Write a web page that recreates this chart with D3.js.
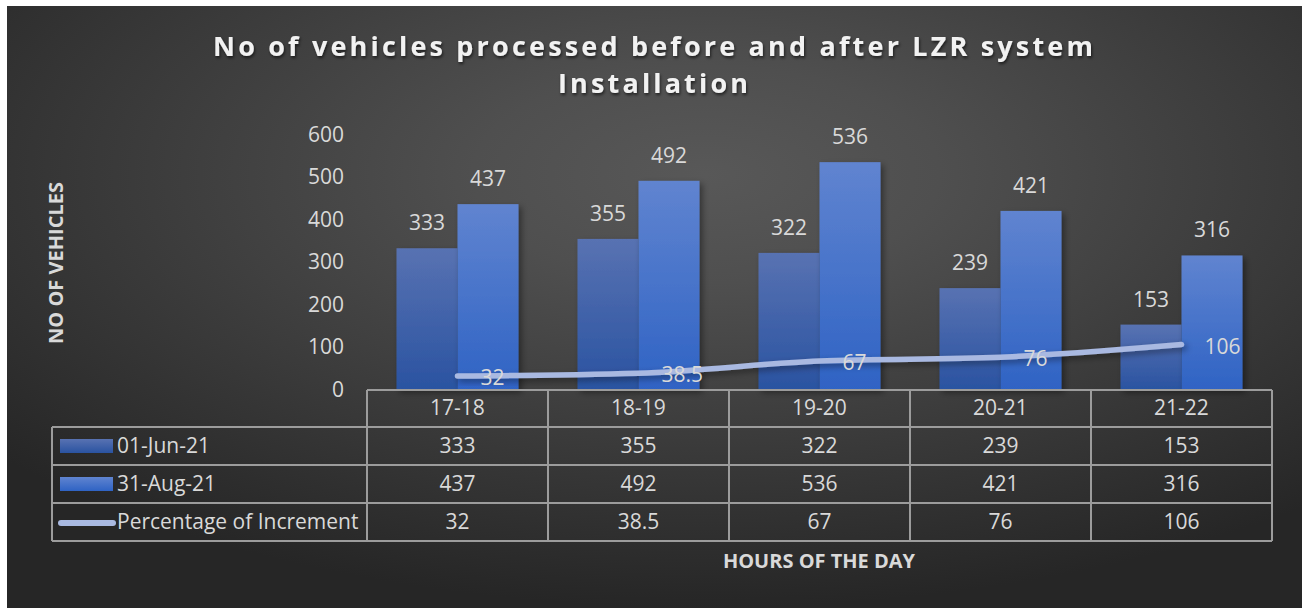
<html>
<head>
<title>LZR vehicles chart</title>
<script src="https://cdn.jsdelivr.net/npm/d3@7"></script>
<style>
body { margin:0; background:#ffffff; }
text { font-family: "Open Sans", "Noto Sans", sans-serif; }
</style>
</head>
<body>
<div id="canvas"></div>
<script>

var categories = ["17-18", "18-19", "19-20", "20-21", "21-22"];
var seriesNames = ["01-Jun-21", "31-Aug-21"];
var jun = [333, 355, 322, 239, 153];
var aug = [437, 492, 536, 421, 316];
var lineName = "Percentage of Increment";
var increment = [32, 38.5, 67, 76, 106];
var yTicks = [0, 100, 200, 300, 400, 500, 600];

var W = 1306, H = 608;
var plotLeft = 367, plotRight = 1272, plotTop = 135, base = 389.5;
var rowH = 38;
var fs = "21px";

var svg = d3.select("#canvas").append("svg")
            .attr("width", W).attr("height", H);

var defs = svg.append("defs");

var bg = defs.append("radialGradient").attr("id", "bg")
             .attr("cx", "54%").attr("cy", "28%").attr("r", "72%");
bg.append("stop").attr("offset", "0%").attr("stop-color", "#585858");
bg.append("stop").attr("offset", "25%").attr("stop-color", "#4f4f4f");
bg.append("stop").attr("offset", "100%").attr("stop-color", "#262626");

var g1 = defs.append("linearGradient").attr("id", "g1")
             .attr("x1", 0).attr("y1", 0).attr("x2", 0).attr("y2", 1);
g1.append("stop").attr("offset", "0%").attr("stop-color", "#5872b2");
g1.append("stop").attr("offset", "100%").attr("stop-color", "#2a53a1");

var g2 = defs.append("linearGradient").attr("id", "g2")
             .attr("x1", 0).attr("y1", 0).attr("x2", 0).attr("y2", 1);
g2.append("stop").attr("offset", "0%").attr("stop-color", "#6084d0");
g2.append("stop").attr("offset", "100%").attr("stop-color", "#2f63c4");

var shadow = defs.append("filter").attr("id", "shadow")
                 .attr("x", "-20%").attr("y", "-20%").attr("width", "150%").attr("height", "150%");
shadow.append("feDropShadow").attr("dx", 3).attr("dy", 3).attr("stdDeviation", 3)
      .attr("flood-color", "#000").attr("flood-opacity", 0.4);

var tshadow = defs.append("filter").attr("id", "tshadow")
                  .attr("x", "-5%").attr("y", "-30%").attr("width", "110%").attr("height", "160%");
tshadow.append("feDropShadow").attr("dx", 1).attr("dy", 2).attr("stdDeviation", 1.5)
       .attr("flood-color", "#000").attr("flood-opacity", 0.6);

svg.append("rect").attr("x", 7).attr("y", 6).attr("width", 1295).attr("height", 602)
   .attr("fill", "url(#bg)");

// title
var title = svg.append("text").attr("text-anchor", "middle")
               .attr("fill", "#f2f2f2").style("font-weight", "bold")
               .style("font-size", "27px").attr("filter", "url(#tshadow)");
title.append("tspan").attr("x", 653).attr("y", 56)
     .attr("textLength", 880).attr("lengthAdjust", "spacing")
     .text("No of vehicles processed before and after LZR system");
title.append("tspan").attr("x", 653).attr("y", 93)
     .attr("textLength", 190).attr("lengthAdjust", "spacing")
     .text("Installation");

var x = d3.scaleBand().domain(categories).range([plotLeft, plotRight]);
var x1 = d3.scaleBand().domain(d3.range(seriesNames.length))
           .range([29.5, x.bandwidth() - 29.5]);
var y = d3.scaleLinear().domain([0, 600]).range([base, plotTop]);

// y axis labels
svg.append("g").selectAll("text").data(yTicks).enter().append("text")
   .attr("x", 344).attr("y", function(d) { return y(d) + 7; })
   .attr("text-anchor", "end").attr("fill", "#d9d9d9").style("font-size", fs)
   .text(function(d) { return d; });

svg.append("text")
   .attr("transform", "translate(63,263) rotate(-90)")
   .attr("text-anchor", "middle").attr("fill", "#d9d9d9")
   .style("font-size", "20px").style("font-weight", "bold")
   .text("NO OF VEHICLES");

// bars
var seriesData = [jun, aug];
var fills = ["url(#g1)", "url(#g2)"];
seriesData.forEach(function(vals, s) {
   svg.append("g").attr("filter", "url(#shadow)")
      .selectAll("rect").data(vals).enter().append("rect")
      .attr("x", function(d, i) { return x(categories[i]) + x1(s); })
      .attr("width", x1.bandwidth())
      .attr("y", function(d) { return y(d); })
      .attr("height", function(d) { return base - y(d); })
      .attr("fill", fills[s]);
});
seriesData.forEach(function(vals, s) {
   svg.append("g").selectAll("text").data(vals).enter().append("text")
      .attr("x", function(d, i) { return x(categories[i]) + x1(s) + x1.bandwidth() / 2; })
      .attr("y", function(d) { return y(d) - 18; })
      .attr("text-anchor", "middle").attr("fill", "#d9d9d9").style("font-size", fs)
      .text(function(d) { return d; });
});

// increment line
var line = d3.line()
             .x(function(d, i) { return x(categories[i]) + x.bandwidth() / 2; })
             .y(function(d) { return y(d); })
             .curve(d3.curveMonotoneX);
svg.append("path").datum(increment).attr("d", line)
   .attr("fill", "none").attr("stroke", "#a9b9e1").attr("stroke-width", 5.5)
   .attr("stroke-linecap", "round").attr("filter", "url(#shadow)");
svg.append("g").selectAll("text").data(increment).enter().append("text")
   .attr("x", function(d, i) { return x(categories[i]) + x.bandwidth() / 2 + 23; })
   .attr("y", function(d) { return y(d) + 9; })
   .attr("fill", "#d9d9d9").style("font-size", fs)
   .text(function(d) { return d; });

// data table
var tbl = svg.append("g").attr("stroke", "#9c9c9c").attr("stroke-width", 2);
var tTop = base + 0.5;
tbl.append("line").attr("x1", plotLeft).attr("x2", plotRight).attr("y1", tTop).attr("y2", tTop);
d3.range(1, 5).forEach(function(r) {
   var yy = tTop + 37 + (r - 1) * rowH;
   tbl.append("line").attr("x1", 52).attr("x2", plotRight).attr("y1", yy).attr("y2", yy);
});
tbl.append("line").attr("x1", 52).attr("x2", 52)
   .attr("y1", tTop + 37).attr("y2", tTop + 37 + 3 * rowH);
x.domain().concat([null]).forEach(function(c) {
   var xx = c === null ? plotRight : x(c);
   tbl.append("line").attr("x1", xx).attr("x2", xx)
      .attr("y1", tTop).attr("y2", tTop + 37 + 3 * rowH);
});

svg.append("g").selectAll("text").data(categories).enter().append("text")
   .attr("x", function(d) { return x(d) + x.bandwidth() / 2; })
   .attr("y", tTop + 25).attr("text-anchor", "middle")
   .attr("fill", "#d9d9d9").style("font-size", fs)
   .text(function(d) { return d; });

var rows = [jun, aug, increment];
rows.forEach(function(vals, r) {
   var cy = tTop + 37 + r * rowH + rowH / 2;
   svg.append("g").selectAll("text").data(vals).enter().append("text")
      .attr("x", function(d, i) { return x(categories[i]) + x.bandwidth() / 2; })
      .attr("y", cy + 7).attr("text-anchor", "middle")
      .attr("fill", "#d9d9d9").style("font-size", fs)
      .text(function(d) { return d; });
});

// legend keys in table
var names = seriesNames.concat([lineName]);
names.forEach(function(n, r) {
   var cy = tTop + 37 + r * rowH + rowH / 2;
   if (r < 2) {
      svg.append("rect").attr("x", 60).attr("y", cy - 7).attr("width", 53).attr("height", 14)
         .attr("fill", fills[r]);
   } else {
      svg.append("line").attr("x1", 61).attr("x2", 113).attr("y1", cy + 1).attr("y2", cy + 1)
         .attr("stroke", "#a9b9e1").attr("stroke-width", 6).attr("stroke-linecap", "round");
   }
   svg.append("text").attr("x", 117).attr("y", cy + 7)
      .attr("fill", "#d9d9d9").style("font-size", fs).text(n);
});

svg.append("text").attr("x", 819).attr("y", 568).attr("text-anchor", "middle")
   .attr("fill", "#d9d9d9").style("font-size", "20px").style("font-weight", "bold")
   .text("HOURS OF THE DAY");

</script>
</body>
</html>
